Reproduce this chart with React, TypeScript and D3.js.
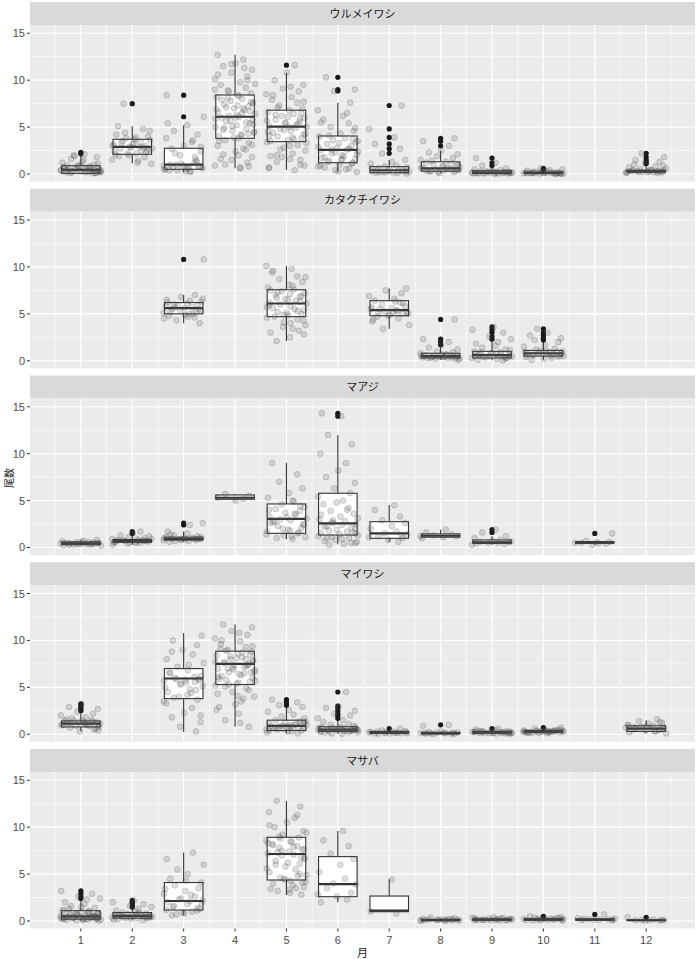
import * as d3 from "d3";

const W = 699;
const H = 959;
const PANEL_LEFT = 30;
const PANEL_RIGHT = 695;
const FIRST_TOP = 2;
const PERIOD = 186.75;
const STRIP_H = 23;
const PLOT_H = 156.5;

const MONTHS = [1, 2, 3, 4, 5, 6, 7, 8, 9, 10, 11, 12];
const Y_TICKS = [0, 5, 10, 15];
const Y_MINOR = [2.5, 7.5, 12.5];
const SPECIES = ["ウルメイワシ", "カタクチイワシ", "マアジ", "マイワシ", "マサバ"];

// jitter offsets (in month units), cycled
const JITTER = [-0.31, 0.12, 0.37, -0.05, 0.22, -0.38, 0.03, 0.29, -0.17, 0.34, -0.26, 0.08, -0.12, 0.39, -0.33, 0.18, -0.02, 0.26, -0.21, 0.35, -0.09, 0.14, -0.36, 0.05, 0.31, -0.14, 0.21, -0.28, 0.1, -0.39, 0.24, -0.07, 0.33, -0.23, 0.01, 0.16, -0.34, 0.27, -0.19, 0.07];

type Box = [number, number, number, number, number, number]; // month, lo, q1, med, q3, hi
type Group = [number, number[]];

// ウルメイワシ
const URUME_BOX: Box[] = [
  [1, 0.0, 0.07, 0.43, 0.88, 2.0],
  [2, 1.14, 2.1, 2.88, 3.7, 5.1],
  [3, 0.2, 0.5, 1.0, 2.74, 5.2],
  [4, 0.6, 3.8, 6.1, 8.42, 12.7],
  [5, 0.43, 3.45, 5.05, 6.8, 10.8],
  [6, 0.2, 1.2, 2.56, 4.05, 7.6],
  [7, 0.05, 0.14, 0.4, 0.78, 1.5],
  [8, 0.1, 0.3, 0.6, 1.3, 2.5],
  [9, 0.02, 0.08, 0.15, 0.35, 0.6],
  [10, 0.02, 0.06, 0.12, 0.2, 0.35],
  [12, 0.1, 0.2, 0.27, 0.4, 0.8],
];
const URUME_OUT: Group[] = [
  [1, [2.15, 2.3]], [2, [7.5]], [3, [6.1, 8.4]], [5, [11.6]], [6, [8.85, 9.0, 10.3]],
  [7, [2.2, 2.7, 3.2, 3.9, 4.8, 7.3]], [8, [3.0, 3.5, 3.8]], [9, [0.9, 1.2, 1.7]],
  [10, [0.4, 0.5, 0.6]], [12, [1.1, 1.3, 1.5, 1.8, 2.2]],
];
const URUME_PTS: Group[] = [
  [1, [0.1, 0.2, 0.3, 0.4, 0.5, 0.6, 0.2, 0.3, 0.8, 0.9, 1.0, 0.1, 0.4, 0.5, 0.7, 1.2, 1.5, 1.8, 2.0, 0.3, 0.2, 0.6, 0.4, 0.1, 0.9, 1.1, 0.5, 0.3, 0.2, 0.7, 0.4, 1.6, 2.1, 0.6, 0.3, 0.2, 0.8, 0.5, 0.4, 1.3, 0.1, 0.3, 0.6, 0.9, 0.2, 1.9, 0.4, 0.7, 0.5, 0.3]],
  [2, [2.1, 2.5, 2.8, 3.0, 3.3, 3.6, 2.2, 2.9, 3.1, 3.7, 4.0, 4.4, 4.8, 5.1, 1.2, 1.5, 1.8, 2.0, 2.6, 2.7, 3.2, 3.4, 2.4, 2.3, 3.5, 3.9, 4.2, 1.4, 1.1, 2.9, 2.8, 3.0, 3.3, 2.5, 7.5, 4.6, 1.9, 2.2, 3.8, 2.7]],
  [3, [0.3, 0.5, 0.6, 0.8, 1.0, 1.2, 0.4, 0.7, 0.9, 1.5, 2.0, 2.4, 2.7, 3.0, 3.4, 3.8, 4.2, 4.6, 5.2, 5.4, 0.2, 0.6, 1.1, 1.8, 0.5, 0.3, 0.8, 2.2, 2.9, 1.0, 0.6, 0.4, 6.1, 8.4, 3.6, 0.9, 1.3, 0.7]],
  [4, [0.6, 0.9, 1.2, 1.5, 1.8, 2.1, 2.4, 2.7, 3.0, 3.3, 3.6, 3.8, 4.0, 4.2, 4.4, 4.6, 4.8, 5.0, 5.2, 5.4, 5.6, 5.8, 6.0, 6.1, 6.2, 6.4, 6.6, 6.8, 7.0, 7.2, 7.4, 7.6, 7.8, 8.0, 8.2, 8.4, 8.6, 8.9, 9.2, 9.5, 9.8, 10.1, 10.4, 10.8, 11.1, 11.5, 11.8, 12.2, 12.7, 0.8, 1.0, 2.0, 3.5, 4.1, 4.5, 5.1, 5.5, 5.9, 6.3, 6.7, 7.1, 7.5, 7.9, 8.3, 8.8, 9.6, 10.6, 11.3, 3.9, 4.3, 4.9, 5.3, 5.7, 6.5, 6.9, 7.3, 7.7, 8.1, 2.6, 1.6, 0.7, 9.0, 10.0, 11.7, 3.1, 4.7, 6.0, 7.0]],
  [5, [0.4, 0.7, 1.0, 1.3, 1.6, 1.9, 2.2, 2.5, 2.8, 3.1, 3.4, 3.6, 3.8, 4.0, 4.2, 4.4, 4.6, 4.8, 5.0, 5.1, 5.2, 5.4, 5.6, 5.8, 6.0, 6.2, 6.4, 6.6, 6.8, 7.0, 7.3, 7.6, 7.9, 8.2, 8.5, 8.8, 9.1, 9.5, 10.0, 10.8, 11.6, 0.6, 1.5, 2.0, 3.0, 3.5, 3.9, 4.3, 4.7, 5.3, 5.7, 6.1, 6.5, 7.1, 7.7, 8.4, 9.3, 2.6, 3.3, 4.1, 4.9, 5.5, 5.9, 6.3, 0.9, 1.8, 3.7, 4.5, 5.0]],
  [6, [0.2, 0.4, 0.6, 0.8, 1.0, 1.2, 1.4, 1.6, 1.8, 2.0, 2.2, 2.4, 2.5, 2.6, 2.8, 3.0, 3.2, 3.4, 3.6, 3.8, 4.0, 4.3, 4.6, 5.0, 5.4, 5.8, 6.2, 6.8, 7.6, 8.85, 9.0, 10.3, 0.3, 0.5, 0.9, 1.1, 1.3, 1.5, 1.7, 1.9, 2.1, 2.3, 2.7, 2.9, 3.3, 3.7, 4.1, 4.9, 0.7, 1.6, 2.6, 3.5, 5.5, 6.5]],
  [7, [0.05, 0.1, 0.15, 0.2, 0.25, 0.3, 0.35, 0.4, 0.5, 0.6, 0.7, 0.8, 0.9, 1.1, 1.3, 1.5, 2.2, 2.7, 3.2, 3.9, 4.8, 7.3, 0.2, 0.3, 0.4, 0.5, 0.1, 0.6, 0.3, 0.2]],
  [8, [0.1, 0.2, 0.3, 0.4, 0.5, 0.6, 0.7, 0.8, 0.9, 1.0, 1.1, 1.2, 1.3, 1.5, 1.7, 1.9, 2.1, 2.3, 2.5, 3.0, 3.5, 3.8, 0.3, 0.4, 0.5, 0.6, 0.7, 0.2, 0.5, 0.6, 0.8, 0.4, 1.4, 0.9, 0.3]],
  [9, [0.02, 0.05, 0.08, 0.1, 0.12, 0.15, 0.18, 0.2, 0.22, 0.25, 0.3, 0.35, 0.4, 0.5, 0.6, 0.9, 1.2, 1.7, 0.05, 0.1, 0.15, 0.2, 0.08, 0.12, 0.18, 0.1, 0.14, 0.06, 0.22, 0.3, 0.16, 0.1]],
  [10, [0.02, 0.05, 0.08, 0.1, 0.12, 0.15, 0.18, 0.2, 0.25, 0.3, 0.35, 0.4, 0.5, 0.6, 0.05, 0.1, 0.15, 0.08, 0.12, 0.06, 0.1, 0.14, 0.2, 0.04, 0.09, 0.13, 0.16, 0.07, 0.11, 0.03]],
  [12, [0.1, 0.15, 0.2, 0.25, 0.3, 0.35, 0.4, 0.45, 0.5, 0.6, 0.7, 0.8, 1.1, 1.3, 1.5, 1.8, 2.2, 0.2, 0.25, 0.3, 0.18, 0.22, 0.28, 0.35, 0.4, 0.15, 0.3, 0.25, 0.9, 1.0]],
];

// カタクチイワシ
const KATAKUCHI_BOX: Box[] = [
  [3, 4.0, 5.0, 5.6, 6.2, 7.0],
  [5, 2.1, 4.7, 6.1, 7.57, 10.1],
  [7, 3.4, 4.8, 5.4, 6.4, 7.7],
  [8, 0.1, 0.3, 0.5, 0.8, 1.4],
  [9, 0.05, 0.3, 0.6, 1.0, 2.0],
  [10, 0.1, 0.5, 0.8, 1.1, 2.0],
];
const KATAKUCHI_OUT: Group[] = [
  [3, [10.8]], [8, [1.7, 2.0, 2.3, 4.4]], [9, [2.3, 2.6, 3.0, 3.3, 3.6]], [10, [2.2, 2.4, 2.7, 3.0, 3.4]],
];
const KATAKUCHI_PTS: Group[] = [
  [3, [4.0, 4.3, 4.6, 4.8, 5.0, 5.1, 5.2, 5.3, 5.4, 5.5, 5.6, 5.7, 5.8, 5.9, 6.0, 6.1, 6.2, 6.4, 6.6, 6.8, 7.0, 4.5, 4.9, 5.5, 5.7, 6.3, 5.2, 4.7, 5.9, 10.8, 6.5, 5.0]],
  [5, [2.1, 2.5, 3.0, 3.4, 3.8, 4.1, 4.4, 4.6, 4.8, 5.0, 5.2, 5.4, 5.6, 5.8, 6.0, 6.1, 6.2, 6.4, 6.6, 6.8, 7.0, 7.2, 7.4, 7.6, 7.8, 8.1, 8.4, 8.7, 9.0, 9.4, 9.8, 10.1, 3.2, 3.6, 4.3, 4.7, 5.1, 5.5, 5.9, 6.3, 6.7, 7.1, 7.5, 8.0, 8.9, 4.9, 5.3, 5.7, 6.5, 6.9, 7.3, 2.8, 9.6, 4.0]],
  [7, [3.4, 3.8, 4.2, 4.5, 4.8, 5.0, 5.1, 5.2, 5.3, 5.4, 5.5, 5.6, 5.8, 6.0, 6.2, 6.4, 6.6, 6.9, 7.2, 7.5, 7.7, 4.7, 4.9, 5.3, 5.7, 6.1, 5.5, 5.2, 4.4, 6.3, 5.0]],
  [8, [0.1, 0.2, 0.3, 0.35, 0.4, 0.45, 0.5, 0.55, 0.6, 0.7, 0.8, 0.9, 1.0, 1.2, 1.4, 1.7, 2.0, 2.3, 4.4, 0.3, 0.4, 0.5, 0.6, 0.25, 0.45, 0.35, 0.55, 0.65, 0.2, 0.4, 0.5, 0.3]],
  [9, [0.05, 0.1, 0.2, 0.3, 0.4, 0.5, 0.6, 0.7, 0.8, 0.9, 1.0, 1.2, 1.4, 1.6, 1.8, 2.0, 2.3, 2.6, 3.0, 3.3, 3.6, 0.3, 0.4, 0.5, 0.6, 0.7, 0.35, 0.45, 0.55, 0.65, 0.8, 0.25, 0.9, 1.1]],
  [10, [0.1, 0.2, 0.3, 0.4, 0.5, 0.6, 0.7, 0.8, 0.9, 1.0, 1.1, 1.3, 1.5, 1.7, 2.0, 2.2, 2.4, 2.7, 3.0, 3.4, 0.5, 0.6, 0.7, 0.8, 0.9, 0.65, 0.75, 0.85, 0.55, 0.95, 1.05, 0.45, 1.2]],
];

// マアジ
const MAAJI_BOX: Box[] = [
  [1, 0.2, 0.3, 0.45, 0.6, 0.8],
  [2, 0.3, 0.55, 0.7, 0.85, 1.3],
  [3, 0.6, 0.8, 0.9, 1.1, 1.7],
  [4, 5.0, 5.14, 5.3, 5.6, 5.7],
  [5, 0.87, 1.51, 3.04, 4.64, 9.04],
  [6, 0.34, 1.33, 2.58, 5.78, 12.0],
  [7, 0.6, 0.98, 1.51, 2.75, 4.53],
  [8, 1.0, 1.1, 1.25, 1.45, 1.9],
  [9, 0.3, 0.45, 0.55, 0.8, 1.2],
  [11, 0.3, 0.45, 0.55, 0.6, 0.7],
];
const MAAJI_OUT: Group[] = [
  [2, [1.5, 1.7]], [3, [2.4, 2.6]], [6, [14.0, 14.3]], [9, [1.6, 1.9]], [11, [1.5]],
];
const MAAJI_PTS: Group[] = [
  [1, [0.2, 0.25, 0.3, 0.35, 0.4, 0.45, 0.5, 0.55, 0.6, 0.65, 0.7, 0.8, 0.3, 0.4, 0.5, 0.35, 0.45, 0.55, 0.4, 0.5, 0.3, 0.6]],
  [2, [0.4, 0.5, 0.55, 0.6, 0.65, 0.7, 0.75, 0.8, 0.85, 0.9, 1.0, 1.1, 1.2, 1.3, 1.5, 1.7, 0.6, 0.7, 0.8, 0.5, 0.65, 0.75, 0.9, 0.55, 0.7, 0.3]],
  [3, [0.6, 0.7, 0.75, 0.8, 0.85, 0.9, 0.95, 1.0, 1.05, 1.1, 1.2, 1.3, 1.5, 1.7, 2.4, 2.6, 0.8, 0.9, 1.0, 0.85, 0.95, 0.7, 1.1, 1.4]],
  [4, [5.0, 5.2, 5.3, 5.5, 5.7]],
  [5, [0.9, 1.1, 1.3, 1.5, 1.7, 1.9, 2.1, 2.3, 2.5, 2.7, 2.9, 3.0, 3.1, 3.3, 3.5, 3.7, 3.9, 4.1, 4.3, 4.6, 4.9, 5.3, 5.8, 6.3, 7.0, 7.8, 9.0, 1.2, 1.4, 1.6, 2.0, 2.4, 2.8, 3.2, 3.6, 4.0, 4.4, 1.0, 1.8, 2.6, 5.0]],
  [6, [0.3, 0.5, 0.7, 0.9, 1.1, 1.3, 1.5, 1.7, 1.9, 2.1, 2.3, 2.5, 2.6, 2.8, 3.0, 3.3, 3.6, 3.9, 4.2, 4.6, 5.0, 5.4, 5.8, 6.3, 6.9, 7.5, 8.2, 9.0, 10.0, 11.0, 12.0, 14.0, 14.3, 0.4, 0.6, 0.8, 1.0, 1.2, 1.4, 1.6, 1.8, 2.0, 2.2, 2.4, 2.7, 3.1, 3.5, 4.0, 4.8, 0.5, 1.0, 1.5, 2.9]],
  [7, [0.6, 0.8, 1.0, 1.2, 1.4, 1.5, 1.7, 2.0, 2.3, 2.6, 2.9, 3.3, 4.0, 4.5, 1.1, 1.3]],
  [8, [1.0, 1.1, 1.2, 1.3, 1.4, 1.6, 1.9, 1.2]],
  [9, [0.3, 0.4, 0.5, 0.55, 0.6, 0.7, 0.8, 1.0, 1.2, 1.6, 1.9, 0.45, 0.5, 0.65]],
  [11, [0.3, 0.4, 0.5, 0.55, 0.6, 0.7, 1.5, 0.5, 0.45]],
];

// マイワシ
const MAIWASHI_BOX: Box[] = [
  [1, 0.3, 0.78, 1.14, 1.42, 2.2],
  [3, 0.25, 3.8, 5.94, 7.0, 10.8],
  [4, 0.8, 5.3, 7.5, 8.85, 11.7],
  [5, 0.1, 0.4, 0.9, 1.5, 2.9],
  [6, 0.05, 0.3, 0.5, 0.8, 1.5],
  [7, 0.05, 0.1, 0.2, 0.3, 0.45],
  [8, 0.02, 0.06, 0.1, 0.2, 0.3],
  [9, 0.05, 0.12, 0.2, 0.3, 0.5],
  [10, 0.1, 0.2, 0.3, 0.4, 0.6],
  [12, 0.1, 0.3, 0.6, 0.9, 1.5],
];
const MAIWASHI_OUT: Group[] = [
  [1, [2.5, 2.7, 2.9, 3.1, 3.25]], [5, [3.1, 3.4, 3.7]], [6, [1.7, 2.0, 2.2, 2.5, 2.8, 3.0, 4.5]],
  [7, [0.6]], [8, [1.0]], [9, [0.6]], [10, [0.7]],
];
const MAIWASHI_PTS: Group[] = [
  [1, [0.3, 0.5, 0.7, 0.8, 0.9, 1.0, 1.1, 1.2, 1.3, 1.4, 1.5, 1.6, 1.8, 2.0, 2.2, 2.4, 2.7, 2.9, 3.2, 0.9, 1.0, 1.1, 1.2, 1.3, 1.4, 1.05, 1.15, 1.25, 1.35, 0.95, 1.45, 0.6, 1.7, 0.4, 1.2, 1.1]],
  [3, [0.3, 0.8, 1.3, 1.8, 2.3, 2.8, 3.3, 3.7, 3.9, 4.2, 4.5, 4.8, 5.1, 5.4, 5.6, 5.7, 5.8, 5.9, 6.0, 6.2, 6.5, 6.8, 7.2, 7.6, 8.0, 8.5, 9.0, 9.5, 10.0, 10.5, 4.0, 4.4, 5.0, 5.5, 5.75, 5.85, 6.1, 6.6, 7.4, 3.5, 4.7, 5.3, 2.0, 8.8]],
  [4, [0.8, 1.5, 2.2, 2.9, 3.5, 4.0, 4.5, 4.9, 5.2, 5.4, 5.6, 5.8, 6.0, 6.2, 6.4, 6.6, 6.8, 7.0, 7.2, 7.4, 7.5, 7.6, 7.8, 8.0, 8.2, 8.4, 8.6, 8.8, 9.0, 9.3, 9.6, 9.9, 10.2, 10.6, 11.0, 11.4, 11.7, 3.2, 3.8, 4.3, 4.7, 5.1, 5.5, 5.9, 6.3, 6.7, 7.1, 7.3, 7.7, 8.1, 8.5, 8.9, 9.4, 10.0, 10.8, 5.3, 5.7, 6.1, 6.5, 6.9, 7.35, 7.65, 7.9, 8.3, 8.7, 2.6, 4.1, 6.6, 7.0, 8.0, 9.1, 1.2]],
  [5, [0.1, 0.2, 0.3, 0.4, 0.5, 0.6, 0.7, 0.8, 0.9, 1.0, 1.1, 1.2, 1.3, 1.4, 1.5, 1.7, 1.9, 2.1, 2.4, 2.6, 2.9, 3.1, 3.4, 3.7, 0.3, 0.5, 0.7, 0.9, 1.1, 0.6, 0.8, 1.0, 0.4, 1.2, 0.75, 0.95, 0.85, 0.65, 1.35, 0.55]],
  [6, [0.05, 0.1, 0.2, 0.3, 0.35, 0.4, 0.45, 0.5, 0.55, 0.6, 0.65, 0.7, 0.8, 0.9, 1.0, 1.1, 1.3, 1.5, 1.7, 2.0, 2.2, 2.5, 2.8, 3.0, 4.5, 0.3, 0.4, 0.5, 0.6, 0.7, 0.35, 0.45, 0.55, 0.25, 0.5, 0.6, 0.4, 0.3, 0.75, 0.2, 0.5, 0.65, 0.45]],
  [7, [0.05, 0.1, 0.15, 0.2, 0.25, 0.3, 0.35, 0.4, 0.6, 0.1, 0.15, 0.2, 0.12, 0.18, 0.22, 0.28, 0.08, 0.14]],
  [8, [0.02, 0.05, 0.08, 0.1, 0.12, 0.15, 0.18, 0.2, 0.25, 0.3, 1.0, 0.9, 0.06, 0.1, 0.14, 0.09]],
  [9, [0.05, 0.1, 0.15, 0.2, 0.25, 0.3, 0.35, 0.4, 0.5, 0.6, 0.1, 0.15, 0.2, 0.25, 0.12, 0.18, 0.22, 0.28, 0.32, 0.08, 0.14, 0.16, 0.24, 0.2, 0.3, 0.1, 0.26, 0.19]],
  [10, [0.1, 0.15, 0.2, 0.25, 0.3, 0.35, 0.4, 0.45, 0.5, 0.6, 0.7, 0.2, 0.25, 0.3, 0.35, 0.22, 0.28, 0.32, 0.38, 0.18, 0.42, 0.15, 0.3, 0.27, 0.33, 0.24, 0.36, 0.4, 0.2, 0.3, 0.26]],
  [12, [0.1, 0.2, 0.3, 0.4, 0.5, 0.6, 0.7, 0.8, 0.9, 1.0, 1.1, 1.2, 1.4, 1.6, 0.5, 0.6, 0.7, 0.45, 0.55, 0.65, 0.75, 0.85, 0.35, 0.95, 1.3, 0.6]],
];

// マサバ
const MASABA_BOX: Box[] = [
  [1, 0.02, 0.2, 0.5, 1.1, 2.3],
  [2, 0.1, 0.3, 0.55, 0.9, 1.4],
  [3, 0.6, 1.17, 2.13, 4.1, 7.3],
  [5, 2.77, 4.37, 7.14, 8.92, 12.8],
  [6, 1.99, 2.59, 3.94, 6.86, 9.6],
  [7, 0.99, 0.99, 1.1, 2.66, 4.44],
  [8, 0.02, 0.05, 0.1, 0.18, 0.3],
  [9, 0.05, 0.1, 0.15, 0.22, 0.35],
  [10, 0.05, 0.1, 0.15, 0.25, 0.4],
  [11, 0.05, 0.1, 0.15, 0.22, 0.3],
  [12, 0.02, 0.05, 0.08, 0.12, 0.15],
];
const MASABA_OUT: Group[] = [
  [1, [2.4, 2.6, 2.9, 3.2]], [2, [1.5, 1.6, 1.8, 2.0, 2.2]], [10, [0.5]], [11, [0.7]], [12, [0.4]],
];
const MASABA_PTS: Group[] = [
  [1, [0.05, 0.1, 0.15, 0.2, 0.25, 0.3, 0.35, 0.4, 0.45, 0.5, 0.55, 0.6, 0.7, 0.8, 0.9, 1.0, 1.1, 1.2, 1.4, 1.6, 1.8, 2.0, 2.3, 2.4, 2.6, 2.9, 3.2, 0.1, 0.2, 0.3, 0.4, 0.5, 0.6, 0.7, 0.15, 0.25, 0.35, 0.45, 0.55, 0.65, 0.75, 0.85, 0.95, 1.05, 0.2, 0.3, 0.4, 0.5, 0.12, 0.22, 0.32, 0.42, 0.6, 0.8, 1.3, 1.5, 0.9, 0.38, 0.48]],
  [2, [0.1, 0.2, 0.3, 0.35, 0.4, 0.45, 0.5, 0.55, 0.6, 0.65, 0.7, 0.8, 0.9, 1.0, 1.1, 1.3, 1.5, 1.6, 1.8, 2.0, 2.2, 0.3, 0.4, 0.5, 0.6, 0.7, 0.35, 0.45, 0.55, 0.65, 0.25, 0.5, 0.6, 0.4, 0.75, 0.85, 0.15, 0.55, 0.45]],
  [3, [0.6, 0.8, 1.0, 1.2, 1.4, 1.6, 1.8, 2.0, 2.1, 2.2, 2.4, 2.6, 2.9, 3.2, 3.5, 3.8, 4.1, 4.5, 5.0, 5.5, 6.0, 6.6, 7.3, 0.9, 1.1, 1.5, 1.9, 2.3, 2.8, 3.4, 4.3, 1.3, 0.7]],
  [5, [2.8, 3.2, 3.6, 4.0, 4.3, 4.6, 4.9, 5.2, 5.5, 5.8, 6.1, 6.4, 6.7, 7.0, 7.1, 7.2, 7.4, 7.6, 7.8, 8.0, 8.2, 8.4, 8.6, 8.9, 9.2, 9.6, 10.0, 10.5, 11.0, 11.6, 12.2, 12.8, 3.0, 3.4, 3.8, 4.2, 4.5, 4.8, 5.6, 6.2, 6.8, 7.3, 7.7, 8.1, 8.5, 8.8, 9.4, 10.2, 3.5, 4.4, 5.0, 6.0, 6.6, 7.5, 7.9, 8.3, 3.3, 4.1, 9.0, 11.3]],
  [6, [2.0, 2.3, 2.6, 3.0, 3.5, 3.9, 4.0, 4.5, 5.2, 6.0, 6.6, 7.2, 8.0, 8.6, 9.6, 2.8]],
  [7, [0.8, 1.0, 4.4]],
  [8, [0.02, 0.05, 0.08, 0.1, 0.12, 0.15, 0.18, 0.2, 0.25, 0.3, 0.35, 0.08, 0.1, 0.14, 0.06, 0.12, 0.16, 0.04]],
  [9, [0.05, 0.08, 0.1, 0.12, 0.15, 0.18, 0.2, 0.22, 0.25, 0.3, 0.35, 0.4, 0.1, 0.15, 0.2, 0.12, 0.18, 0.14, 0.16, 0.24, 0.28, 0.06]],
  [10, [0.05, 0.1, 0.15, 0.2, 0.25, 0.3, 0.35, 0.4, 0.5, 0.1, 0.15, 0.2, 0.12, 0.18, 0.22, 0.28, 0.08, 0.14, 0.24, 0.26]],
  [11, [0.05, 0.1, 0.15, 0.2, 0.25, 0.3, 0.7, 0.12, 0.18, 0.22, 0.15]],
  [12, [0.02, 0.05, 0.08, 0.1, 0.12, 0.15, 0.4, 0.08, 0.1]],
];

const PANELS = [
  { name: SPECIES[0], box: URUME_BOX, out: URUME_OUT, pts: URUME_PTS },
  { name: SPECIES[1], box: KATAKUCHI_BOX, out: KATAKUCHI_OUT, pts: KATAKUCHI_PTS },
  { name: SPECIES[2], box: MAAJI_BOX, out: MAAJI_OUT, pts: MAAJI_PTS },
  { name: SPECIES[3], box: MAIWASHI_BOX, out: MAIWASHI_OUT, pts: MAIWASHI_PTS },
  { name: SPECIES[4], box: MASABA_BOX, out: MASABA_OUT, pts: MASABA_PTS },
];

const FONT = "'Liberation Sans', Arial, sans-serif";
const JP_FONT = "'Noto Sans CJK JP', sans-serif";

const xScale = d3.scaleLinear().domain([0.01, 12.95]).range([PANEL_LEFT, PANEL_RIGHT]);
const xMinor = d3.range(0.5, 13, 1);
const BOX_HALF = 0.375;

const Panel = ({ idx }: { idx: number }) => {
  const p = PANELS[idx];
  const top = FIRST_TOP + idx * PERIOD;
  const plotTop = top + STRIP_H;
  const plotBottom = plotTop + PLOT_H;
  const y = d3.scaleLinear().domain([-0.8, 15.88]).range([plotBottom, plotTop]);

  return (
    <g>
      {/* strip */}
      <rect x={PANEL_LEFT} y={top} width={PANEL_RIGHT - PANEL_LEFT} height={STRIP_H} fill="#D9D9D9" />
      <text x={(PANEL_LEFT + PANEL_RIGHT) / 2} y={top + STRIP_H / 2 + 4} textAnchor="middle" fontSize={11} fill="#1A1A1A" fontFamily={JP_FONT}>
        {p.name}
      </text>
      {/* panel background and grid */}
      <rect x={PANEL_LEFT} y={plotTop} width={PANEL_RIGHT - PANEL_LEFT} height={PLOT_H} fill="#EBEBEB" />
      {Y_MINOR.map((v) => (
        <line key={"ym" + v} x1={PANEL_LEFT} x2={PANEL_RIGHT} y1={y(v)} y2={y(v)} stroke="#fff" strokeWidth={0.6} />
      ))}
      {xMinor.map((v) => (
        <line key={"xm" + v} x1={xScale(v)} x2={xScale(v)} y1={plotTop} y2={plotBottom} stroke="#fff" strokeWidth={0.6} />
      ))}
      {Y_TICKS.map((v) => (
        <line key={"yM" + v} x1={PANEL_LEFT} x2={PANEL_RIGHT} y1={y(v)} y2={y(v)} stroke="#fff" strokeWidth={1.2} />
      ))}
      {MONTHS.map((m) => (
        <line key={"xM" + m} x1={xScale(m)} x2={xScale(m)} y1={plotTop} y2={plotBottom} stroke="#fff" strokeWidth={1.2} />
      ))}
      {/* boxes */}
      {p.box.map(([m, lo, q1, med, q3, hi]) => {
        const x0 = xScale(m - BOX_HALF);
        const x1 = xScale(m + BOX_HALF);
        const cx = xScale(m);
        return (
          <g key={"b" + m}>
            <line x1={cx} x2={cx} y1={y(hi)} y2={y(q3)} stroke="#333" strokeWidth={1.1} />
            <line x1={cx} x2={cx} y1={y(q1)} y2={y(lo)} stroke="#333" strokeWidth={1.1} />
            <rect x={x0} y={y(q3)} width={x1 - x0} height={Math.max(0.5, y(q1) - y(q3))} fill="#fff" stroke="#333" strokeWidth={1.1} />
            <line x1={x0} x2={x1} y1={y(med)} y2={y(med)} stroke="#333" strokeWidth={2.2} />
          </g>
        );
      })}
      {/* outliers */}
      {p.out.map(([m, vals]) =>
        vals.map((v, i) => <circle key={"o" + m + "-" + i} cx={xScale(m)} cy={y(v)} r={2.6} fill="#1A1A1A" />)
      )}
      {/* jittered points */}
      {p.pts.map(([m, vals]) =>
        vals.map((v, i) => (
          <circle
            key={"p" + m + "-" + i}
            cx={xScale(m + JITTER[(i + m * 7 + idx * 3) % JITTER.length])}
            cy={y(v)}
            r={2.9}
            fill="#555"
            fillOpacity={0.18}
            stroke="#444"
            strokeOpacity={0.3}
            strokeWidth={0.7}
          />
        ))
      )}
      {/* y axis */}
      {Y_TICKS.map((v) => (
        <g key={"yt" + v}>
          <line x1={PANEL_LEFT - 3} x2={PANEL_LEFT} y1={y(v)} y2={y(v)} stroke="#333" strokeWidth={1} />
          <text x={PANEL_LEFT - 5} y={y(v) + 4} textAnchor="end" fontSize={11} fill="#4D4D4D" fontFamily={FONT}>
            {v}
          </text>
        </g>
      ))}
    </g>
  );
};

export default function App() {
  const lastBottom = FIRST_TOP + 4 * PERIOD + STRIP_H + PLOT_H;
  return (
    <svg width={W} height={H} style={{ position: "absolute", left: 0, top: 0, background: "#fff" }}>
      <rect x={0} y={0} width={W} height={H} fill="#fff" />
      {PANELS.map((_, i) => (
        <Panel key={i} idx={i} />
      ))}
      {/* x axis */}
      {MONTHS.map((m) => (
        <g key={"xt" + m}>
          <line x1={xScale(m)} x2={xScale(m)} y1={lastBottom} y2={lastBottom + 3} stroke="#333" strokeWidth={1} />
          <text x={xScale(m)} y={lastBottom + 15} textAnchor="middle" fontSize={11} fill="#4D4D4D" fontFamily={FONT}>
            {m}
          </text>
        </g>
      ))}
      <text x={(PANEL_LEFT + PANEL_RIGHT) / 2} y={lastBottom + 28} textAnchor="middle" fontSize={11} fill="#1A1A1A" fontFamily={JP_FONT}>
        月
      </text>
      <text transform="translate(13,478) rotate(-90)" textAnchor="middle" fontSize={10} fill="#1A1A1A" fontFamily={JP_FONT}>
        尾数
      </text>
    </svg>
  );
}
